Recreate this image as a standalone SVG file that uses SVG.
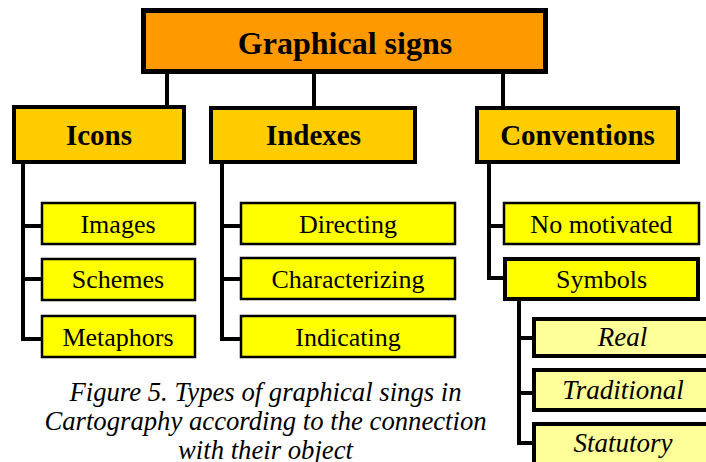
<svg xmlns="http://www.w3.org/2000/svg" width="706" height="462" viewBox="0 0 706 462">
<style>
.root{fill:#FF9900;stroke:#000;stroke-width:5}
.cat{fill:#FFCC00;stroke:#000;stroke-width:4}
.leaf{fill:#FFFF00;stroke:#000;stroke-width:2.5}
.leafb{fill:#FFFF00;stroke:#000;stroke-width:4}
.sub{fill:#FFFF99;stroke:#000;stroke-width:4}
.ln{fill:none;stroke:#000;stroke-width:4}
text{font-family:"Liberation Serif","Times New Roman",serif;fill:#000;text-anchor:middle}
.tb{font-weight:bold}
.t1{font-size:32px}
.t2{font-size:29px}
.t3{font-size:26px}
.ti{font-style:italic;font-size:27px}
.cap{font-style:italic;font-size:26.7px}
</style>
<g id="connectors">
<path class="ln" d="M167,74V106M314,74V106M503,74V106"/>
<path class="ln" d="M23,163V339H41M23,226H41M23,279H41"/>
<path class="ln" d="M222,163V339H240M222,226H240M222,279H240"/>
<path class="ln" d="M489,163V278H503M489,226H503"/>
<path class="ln" d="M519,300V443H532M519,338H532M519,393H532"/>
</g>
<g id="n-graphical-signs"><rect class="root" x="143.5" y="10.5" width="402" height="61"/><text class="tb t1" x="345" y="54">Graphical signs</text></g>
<g id="n-icons"><rect class="cat" x="14" y="107" width="170" height="55"/><text class="tb t2" x="99" y="145">Icons</text></g>
<g id="n-indexes"><rect class="cat" x="211" y="108" width="204" height="54"/><text class="tb t2" x="313.5" y="145">Indexes</text></g>
<g id="n-conventions"><rect class="cat" x="477" y="108" width="201" height="54"/><text class="tb t2" x="577.5" y="145">Conventions</text></g>
<g id="n-images"><rect class="leaf" x="42" y="203" width="153" height="41"/><text class="t3" x="118" y="233">Images</text></g>
<g id="n-schemes"><rect class="leaf" x="42" y="259" width="153" height="41"/><text class="t3" x="118" y="288">Schemes</text></g>
<g id="n-metaphors"><rect class="leaf" x="42" y="316" width="153" height="41"/><text class="t3" x="118" y="346">Metaphors</text></g>
<g id="n-directing"><rect class="leaf" x="241" y="203" width="214" height="41"/><text class="t3" x="348" y="233">Directing</text></g>
<g id="n-characterizing"><rect class="leaf" x="241" y="258" width="214" height="41"/><text class="t3" x="348" y="288">Characterizing</text></g>
<g id="n-indicating"><rect class="leaf" x="241" y="316" width="214" height="41"/><text class="t3" x="348" y="346">Indicating</text></g>
<g id="n-no-motivated"><rect class="leaf" x="504" y="203" width="195" height="41"/><text class="t3" x="601.5" y="233">No motivated</text></g>
<g id="n-symbols"><rect class="leafb" x="505" y="259" width="193" height="40"/><text class="t3" x="601.5" y="288">Symbols</text></g>
<g id="n-real"><rect class="sub" x="534" y="319" width="180" height="37"/><text class="ti" x="622.5" y="346">Real</text></g>
<g id="n-traditional"><rect class="sub" x="534" y="370" width="180" height="40"/><text class="ti" x="623" y="399">Traditional</text></g>
<g id="n-statutory"><rect class="sub" x="534" y="424" width="180" height="45"/><text class="ti" x="623" y="452">Statutory</text></g>
<g id="caption"><text class="cap" x="265.5" y="401">Figure 5. Types of graphical sings in</text><text class="cap" x="265.5" y="430">Cartography according to the connection</text><text class="cap" x="265.5" y="458.5">with their object</text></g>
</svg>
